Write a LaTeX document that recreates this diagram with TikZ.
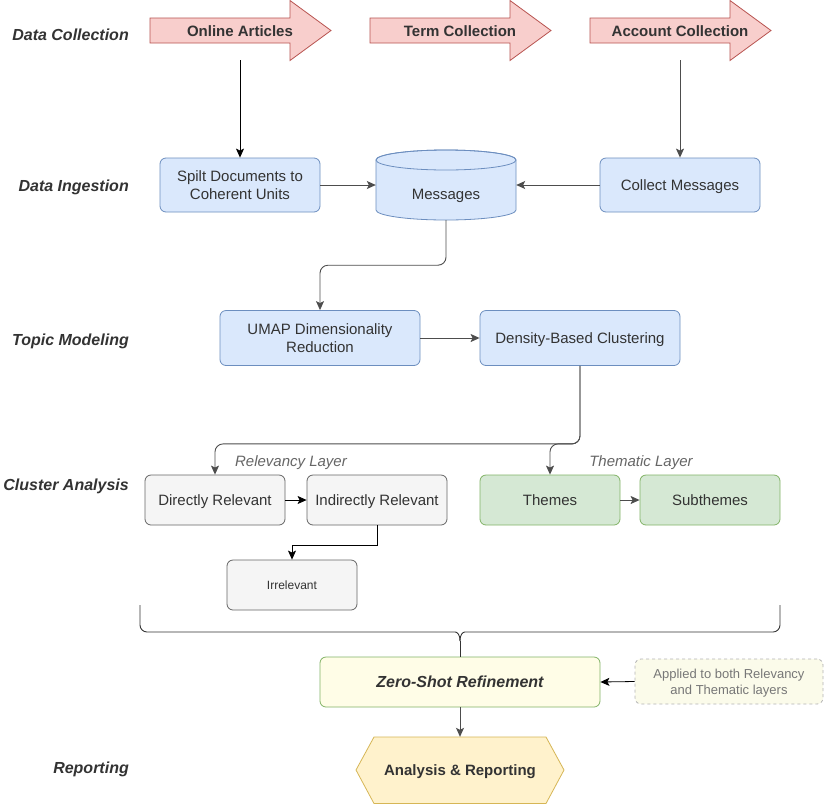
\documentclass[tikz,border=0pt]{standalone}
\usepackage{fontspec}
\setmainfont{Liberation Sans}
\usetikzlibrary{arrows.meta}
\definecolor{txt}{HTML}{333333}
\definecolor{redF}{HTML}{F8CECC}
\definecolor{redS}{HTML}{B85450}
\definecolor{blueF}{HTML}{DAE8FC}
\definecolor{blueS}{HTML}{6C8EBF}
\definecolor{greyF}{HTML}{F5F5F5}
\definecolor{greyS}{HTML}{666666}
\definecolor{greenF}{HTML}{D5E8D4}
\definecolor{greenS}{HTML}{82B366}
\definecolor{yelF}{HTML}{FFFDE7}
\definecolor{noteF}{HTML}{FBFBEA}
\definecolor{noteS}{HTML}{B3B3B3}
\definecolor{noteT}{HTML}{777777}
\definecolor{hexF}{HTML}{FFF2CC}
\definecolor{hexS}{HTML}{D6B656}
\definecolor{conn}{HTML}{4D4D4D}
\tikzset{
  phase/.style={font=\fontsize{16}{19}\selectfont\bfseries\itshape, text=txt, anchor=east, inner sep=0, text depth=0pt},
  boxbase/.style={rounded corners=6pt, align=center, inner sep=0, text=txt, line width=0.8pt,
    font=\fontsize{15}{17.5}\selectfont, text depth=0pt},
  bluebox/.style={boxbase, draw=blueS, fill=blueF, minimum width=160, minimum height=54},
  greybox/.style={boxbase, draw=greyS, fill=greyF, minimum width=140, minimum height=50},
  greenbox/.style={boxbase, draw=greenS, fill=greenF, minimum width=140, minimum height=50},
  arrtext/.style={font=\fontsize{15}{17}\selectfont\bfseries, text=txt, inner sep=0},
  layer/.style={font=\fontsize{15}{17}\selectfont\itshape, text=greyS, inner sep=0, text depth=0pt},
  tip/.style={-{Stealth[length=9pt,width=8pt,inset=2pt]}},
  arr/.style={tip, draw=black, line width=0.8pt},
  garr/.style={tip, draw=conn, line width=0.9pt},
}
\begin{document}
\begin{tikzpicture}[x=1pt,y=-1pt]
\useasboundingbox[fill=white] (0,0) rectangle (825,804);

% phase labels
\node[phase] (l1) at (129,34.5) {Data Collection};
\node[phase] (l2) at (129,185.5) {Data Ingestion};
\node[phase] (l3) at (129,339.5) {Topic Modeling};
\node[phase] (l4) at (129,484.5) {Cluster Analysis};
\node[phase] (l5) at (129,767.5) {Reporting};

% block arrows
\foreach \x in {150,370,590}{
  \draw[fill=redF, draw=redS, line width=0.8pt]
    (\x,18) -- (\x+140,18) -- (\x+140,0.5) -- (\x+181,30.5) -- (\x+140,60.5) -- (\x+140,43) -- (\x,43) -- cycle;
}
\node[arrtext] (oa) at (240,31) {Online Articles};
\node[arrtext] (tc) at (460,31) {Term Collection};
\node[arrtext] (ac) at (680,31) {Account Collection};
\coordinate (oaout) at (240,60);
\coordinate (acout) at (680,60);

% ingestion
\node[bluebox] (split) at (240,185) {Spilt Documents to\\Coherent Units};
\node[bluebox] (collect) at (680,185) {Collect Messages};
\draw[fill=blueF, draw=blueS, line width=0.8pt]
  (376,160) -- (376,210) arc[start angle=180, end angle=360, x radius=70, y radius=-10] -- (516,160)
  arc[start angle=0, end angle=180, x radius=70, y radius=-10] -- cycle;
\draw[draw=blueS, line width=0.8pt] (446,160) ellipse[x radius=70, y radius=10];
\node[minimum width=140, minimum height=70, inner sep=0] (msg) at (446,185) {};
\node[font=\fontsize{15}{17}\selectfont, text=txt, inner sep=0, text depth=0pt] (msgt) at (446,194) {Messages};

% topic modeling
\node[bluebox, minimum width=200, minimum height=55] (umap) at (320,338) {UMAP Dimensionality\\Reduction};
\node[bluebox, minimum width=200, minimum height=55] (dbc) at (580,338) {Density-Based Clustering};

% cluster analysis
\node[layer] (rl) at (291,461) {Relevancy Layer};
\node[layer] (tl) at (641,461) {Thematic Layer};
\node[greybox] (dr) at (215,500) {Directly Relevant};
\node[greybox] (ir) at (377,500) {Indirectly Relevant};
\node[greybox, minimum width=130, font=\fontsize{12}{14}\selectfont] (irr) at (292,585) {Irrelevant};
\node[greenbox] (th) at (550,500) {Themes};
\node[greenbox] (sub) at (710,500) {Subthemes};

% brace
\draw[draw=txt, line width=0.9pt, rounded corners=7pt]
  (140,605) -- (140,632) -- (448,632) .. controls (457,632) and (460,634) .. (460,641);
\draw[draw=txt, line width=0.9pt, rounded corners=7pt]
  (780,605) -- (780,632) -- (472,632) .. controls (463,632) and (460,634) .. (460,641);
\coordinate (bt) at (460,641);

% refinement
\node[boxbase, draw=greenS, fill=yelF, minimum width=280, minimum height=50,
  font=\fontsize{16}{19}\selectfont\bfseries\itshape] (zs) at (460,682) {Zero-Shot Refinement};
\node[boxbase, draw=noteS, fill=noteF, dashed, minimum width=188, minimum height=45,
  font=\fontsize{13}{16}\selectfont, text=noteT] (note) at (729,681.5) {Applied to both Relevancy\\and Thematic layers};

% reporting
\draw[fill=hexF, draw=hexS, line width=0.8pt]
  (356,770) -- (374,737) -- (546,737) -- (564,770) -- (546,803.5) -- (374,803.5) -- cycle;
\node[font=\fontsize{15}{18}\selectfont\bfseries, text=txt, minimum width=208, minimum height=66, inner sep=0, text depth=0pt] (rep) at (460,770) {Analysis \& Reporting};

% connectors
\draw[arr] (oaout) -- (split.north);
\draw[garr] (acout) -- (collect.north);
\draw[garr] (split.east) -- (msg.west);
\draw[garr] (collect.west) -- (msg.east);
\draw[garr, rounded corners=8pt] (msg.south) -- ++(0,45) -| (umap.north);
\draw[garr] (umap.east) -- (dbc.west);
\draw[garr, rounded corners=8pt] (dbc.south) -- ++(0,78) -| (dr.north);
\draw[garr, rounded corners=8pt] (dbc.south) -- ++(0,78) -| (th.north);
\draw[arr] (dr.east) -- (ir.west);
\draw[arr] (ir.south) -- ++(0,20) -| (irr.north);
\draw[garr] (th.east) -- (sub.west);
\draw[draw=txt, line width=0.9pt] (bt) -- (zs.north);
\draw[arr] (note.west) -- (zs.east);
\draw[garr] (zs.south) -- (rep.north);
\end{tikzpicture}
\end{document}
